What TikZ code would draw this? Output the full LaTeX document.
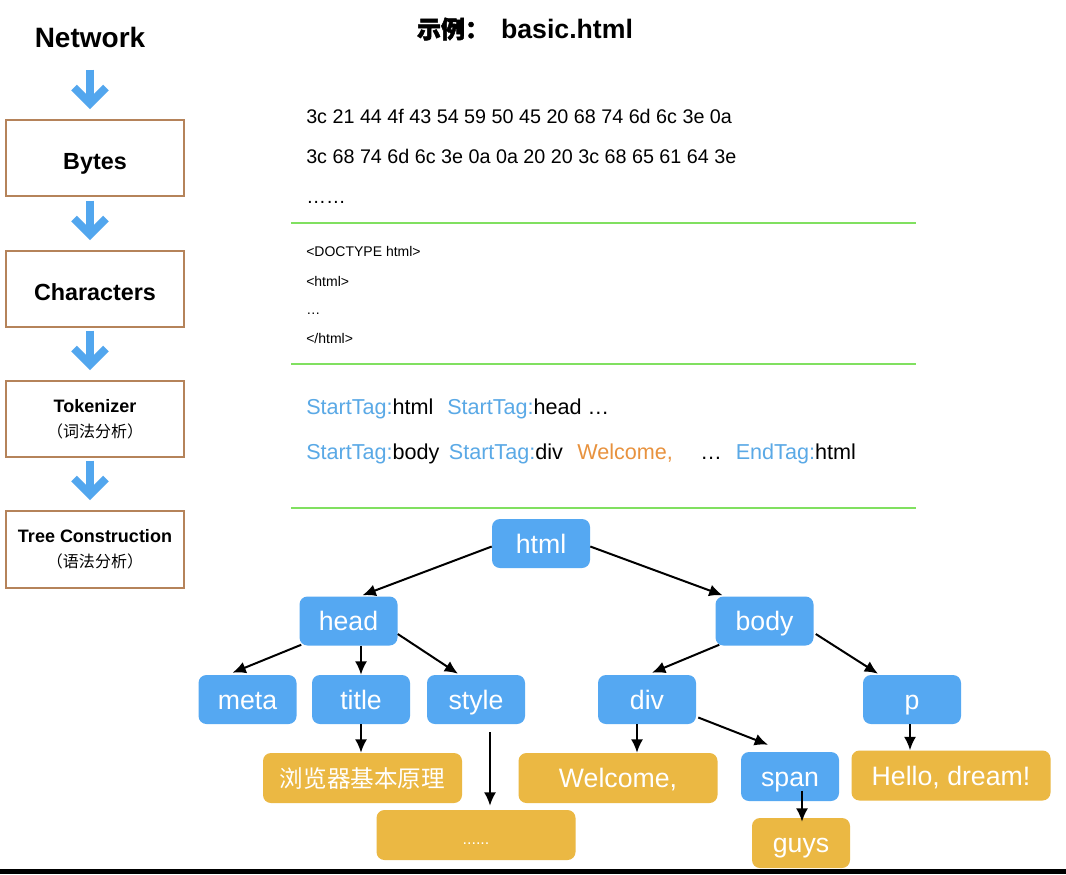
\documentclass[tikz,border=0pt]{standalone}
\usepackage{fontspec}
\setmainfont{Liberation Sans}
\newfontfamily\cjk{Noto Sans CJK SC}
\newfontfamily\cjkbold{Noto Sans CJK SC}[FakeBold=2]
\usetikzlibrary{arrows.meta,calc}
\definecolor{nodeblue}{HTML}{55A8F2}
\definecolor{nodeyellow}{HTML}{EBB843}
\definecolor{boxbrown}{HTML}{B5835A}
\definecolor{sepgreen}{HTML}{80E060}
\definecolor{tagblue}{HTML}{5AA9E6}
\definecolor{welorange}{HTML}{E8923E}
\definecolor{flowblue}{HTML}{52A6EE}
\begin{document}
\begin{tikzpicture}[x=0.75pt,y=-0.75pt,
  stagebox/.style={draw=boxbrown,line width=1.1pt,minimum width=133.5pt,minimum height=57pt,inner sep=0pt,align=center},
  bigstage/.style={stagebox,font=\fontsize{17.5}{21}\selectfont\bfseries,text height=12.6pt,text depth=0pt},
  tnode/.style={rounded corners=6pt,minimum width=73.5pt,minimum height=36.75pt,inner sep=0pt,text=white,font=\fontsize{20}{24}\selectfont,text height=14.3pt,text depth=0pt},
  bnode/.style={tnode,fill=nodeblue},
  ynode/.style={tnode,fill=nodeyellow,minimum height=37.5pt},
  wide/.style={minimum width=149.25pt},
  flow/.style={line width=6pt,draw=flowblue},
  tarrow/.style={draw=black,line width=1.5pt,-{Latex[length=10pt,width=9pt]}},
  sepline/.style={draw=sepgreen,line width=1.5pt},
  hex/.style={anchor=base west,inner sep=0pt,font=\fontsize{14.8}{18}\selectfont},
  src/.style={anchor=base west,inner sep=0pt,font=\fontsize{10.5}{13}\selectfont},
  tok/.style={anchor=base west,inner sep=0pt,font=\fontsize{16.2}{19}\selectfont},
]
\useasboundingbox (0,0) rectangle (1066,874);
\fill[white] (0,0) rectangle (1066,874);
\fill[black] (0,869) rectangle (1066,874);

% title
\node[font=\fontsize{20}{24}\selectfont\bfseries] (title) at (525,29)
  {{\cjkbold\fontsize{18}{22}\selectfont 示例：}\hspace{9pt}basic.html};

% left pipeline
\node[font=\fontsize{21}{25}\selectfont\bfseries] (net) at (90,37) {Network};
\node[bigstage] (bytes) at (95,158) {\raisebox{-2.2pt}{Bytes}};
\node[bigstage] (chars) at (95,289) {\raisebox{-2.2pt}{Characters}};
\node[stagebox,font=\fontsize{13.5}{19}\selectfont] (tok) at (95,419)
  {\textbf{Tokenizer}\\{\cjk\fontsize{12}{19}\selectfont （词法分析）}};
\node[stagebox,minimum height=57.75pt,font=\fontsize{13.5}{19}\selectfont] (tree) at (95,549.5)
  {\textbf{Tree Construction}\\{\cjk\fontsize{12}{19}\selectfont （语法分析）}};

\foreach \a/\b in {net/bytes,bytes/chars,chars/tok,tok/tree}{
  \coordinate (v) at ($(\b.north)+(-5,-15.7)$);
  \draw[flow] ($(v)+(0,-34)$) -- (v);
  \draw[flow] ($(v)+(-16,-16)$) -- (v) -- ($(v)+(16,-16)$);
}

% bytes
\node[hex] (hex1) at (306,123) {3c 21 44 4f 43 54 59 50 45 20 68 74 6d 6c 3e 0a};
\node[hex] (hex2) at (306,163) {3c 68 74 6d 6c 3e 0a 0a 20 20 3c 68 65 61 64 3e};
\node[hex] (hex3) at (306,203) {……};
\draw[sepline] (291,223) -- (916,223);

% characters
\node[src] (src1) at (306,256) {<DOCTYPE html>};
\node[src] (src2) at (306,286) {<html>};
\node[src] (src3) at (306,314) {…};
\node[src] (src4) at (306,343) {</html>};
\draw[sepline] (291,364) -- (916,364);

% tokens
\node[tok] (t1) at (306,414) {\textcolor{tagblue}{StartTag:}html};
\node[tok] (t2) at (447,414) {\textcolor{tagblue}{StartTag:}head …};
\node[tok] (t3) at (306,459) {\textcolor{tagblue}{StartTag:}body};
\node[tok] (t4) at (448.6,459) {\textcolor{tagblue}{StartTag:}div};
\node[tok,text=welorange] (t5) at (577,459) {Welcome,};
\node[tok] (t6) at (700,459) {…};
\node[tok] (t7) at (735.5,459) {\textcolor{tagblue}{EndTag:}html};
\draw[sepline] (291,508) -- (916,508);

% tree
\node[bnode] (html) at (541,543.5) {html};
\node[bnode] (head) at (348.5,621) {head};
\node[bnode] (body) at (764.5,621) {body};
\node[bnode] (meta) at (247.5,699.5) {meta};
\node[bnode] (ttl) at (361,699.5) {title};
\node[bnode] (style) at (476,699.5) {style};
\node[bnode] (div) at (647,699.5) {div};
\node[bnode] (p) at (912,699.5) {p};
\node[bnode] (span) at (790,776.5) {span};
\node[ynode,wide,font=\cjk\fontsize{17.7}{21}\selectfont] (cn) at (362.5,778) {浏览器基本原理};
\node[ynode,wide,font=\fontsize{12}{14}\selectfont] (dots) at (476,835) {......};
\node[ynode,wide] (welcome) at (618,778) {Welcome,};
\node[ynode,wide] (hello) at (951,775.5) {Hello, dream!};
\node[ynode] (guys) at (801,843) {guys};

\coordinate (s1) at ($(style.south)+(14,8)$);
\coordinate (d1) at ($(div.south)+(-10,0)$);
\coordinate (p1) at ($(p.south)+(-2,0)$);
\coordinate (g1) at ($(span.center)+(12,14)$);

\draw[tarrow] ($(html.west)+(0,3)$) -- ($(head.north)+(14,-1)$);
\draw[tarrow] ($(html.east)+(0,3)$) -- ($(body.north)+(-42,-1)$);
\draw[tarrow] ($(head.south west)+(2,-1)$) -- ($(meta.north)+(-15,-2)$);
\draw[tarrow] (head.south -| ttl.north) -- (ttl.north);
\draw[tarrow] ($(head.east)+(0,13)$) -- ($(style.north)+(-18,-1)$);
\draw[tarrow] (ttl.south) -- (ttl.south |- cn.north);
\draw[tarrow] (s1) -- ($(s1 |- dots.north)+(0,-4)$);
\draw[tarrow] ($(body.south west)+(4,-1)$) -- ($(div.north)+(5,-2)$);
\draw[tarrow] ($(body.east)+(2,13)$) -- ($(p.north)+(-34,-1)$);
\draw[tarrow] (d1) -- (d1 |- welcome.north);
\draw[tarrow] ($(div.east)+(2,18)$) -- ($(span.north)+(-22,-7)$);
\draw[tarrow] (p1) -- (p1 |- hello.north);
\draw[tarrow] (g1) -- ($(g1 |- guys.north)+(0,4)$);
\end{tikzpicture}
\end{document}
